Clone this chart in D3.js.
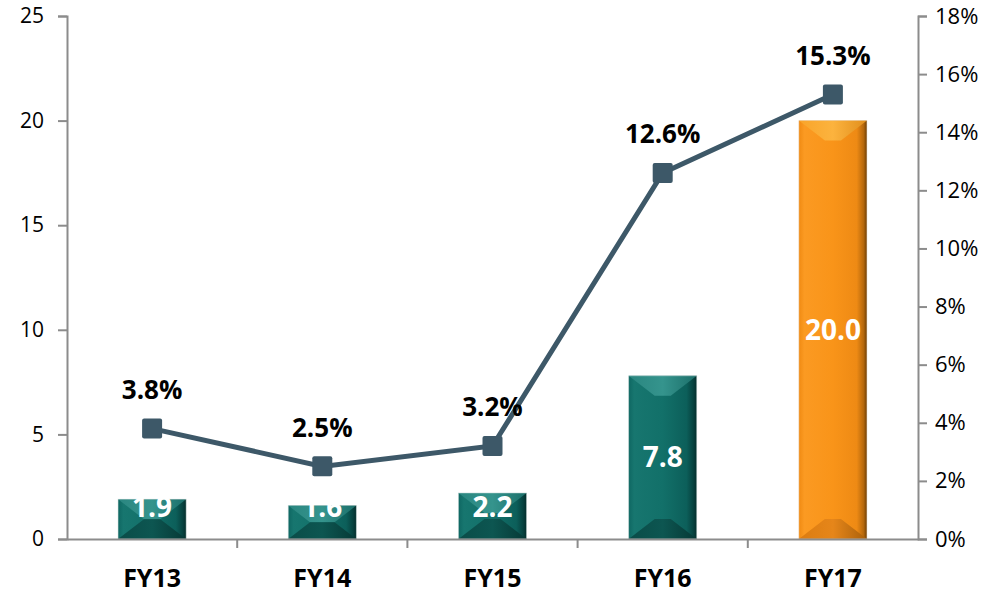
<!DOCTYPE html>
<html>
<head>
<meta charset="utf-8">
<script src="https://cdn.jsdelivr.net/npm/d3@7"></script>
<style>
  body { margin: 0; background: #fff; }
  text { font-family: "Open Sans", sans-serif; }
</style>
</head>
<body>
<div id="chart"></div>
<script>
let categories = ["FY13", "FY14", "FY15", "FY16", "FY17"];
let barValues = [1.9, 1.6, 2.2, 7.8, 20.0];
let lineValues = [3.8, 2.5, 3.2, 12.6, 15.3];
let leftTicks = [0, 5, 10, 15, 20, 25];
let rightTicks = [0, 2, 4, 6, 8, 10, 12, 14, 16, 18];

const w = 991, h = 595;
const m = {top: 16, right: 73, bottom: 56, left: 67};
const font = '"Open Sans", sans-serif';

let svg = d3.select("#chart").append("svg").attr("width", w).attr("height", h);
let defs = svg.append("defs");

let x = d3.scaleBand().domain(categories).range([m.left, w - m.right]).paddingInner(0.6).paddingOuter(0.3);
let yL = d3.scaleLinear().domain([0, 25]).range([h - m.bottom, m.top]);
let yR = d3.scaleLinear().domain([0, 18]).range([h - m.bottom, m.top]);

let axisColor = "#8c8c8c";

// horizontal gradients for the bevelled bars
function grad(id, stops) {
  let g = defs.append("linearGradient").attr("id", id).attr("x1", 0).attr("x2", 1).attr("y1", 0).attr("y2", 0);
  stops.forEach(s => g.append("stop").attr("offset", s[0]).attr("stop-color", s[1]));
}
grad("tealBase", [[0, "#0f6762"], [0.08, "#17766f"], [0.5, "#127069"], [0.85, "#0c5f5a"], [0.95, "#07423f"], [1, "#052e2c"]]);
grad("tealTop", [[0, "#2a8680"], [0.5, "#35948d"], [1, "#1c6f6a"]]);
grad("tealBot", [[0, "#0a4c48"], [0.5, "#0d5651"], [1, "#063835"]]);
grad("orBase", [[0, "#f08a12"], [0.08, "#fb9a22"], [0.5, "#f99419"], [0.85, "#ee8a14"], [0.95, "#b5680d"], [1, "#6e3f06"]]);
grad("orTop", [[0, "#f9a42a"], [0.5, "#fcb33e"], [1, "#e08e1c"]]);
grad("orBot", [[0, "#dc7c10"], [0.5, "#e6861a"], [1, "#a9600a"]]);

let bars = svg.append("g").selectAll("g.bar")
  .data(categories.map((c, i) => ({cat: c, value: barValues[i], last: i === categories.length - 1})))
  .enter().append("g").attr("class", "bar");

bars.each(function(d) {
  let g = d3.select(this);
  let p = d.last ? "or" : "teal";
  let x0 = x(d.cat), x1 = x0 + x.bandwidth();
  let y0 = yL(d.value), y1 = yL(0);
  let b = Math.min(20, (y1 - y0) / 2);
  let ix = Math.min(b * 1.3, x.bandwidth() / 2 - 4);
  g.append("rect").attr("x", x0).attr("y", y0).attr("width", x1 - x0).attr("height", y1 - y0)
    .attr("fill", `url(#${p}Base)`);
  let poly = (pts, fill) => g.append("polygon").attr("points", pts.map(q => q.join(",")).join(" ")).attr("fill", fill);
  poly([[x0, y0], [x1, y0], [x1 - ix, y0 + b], [x0 + ix, y0 + b]], `url(#${p}Top)`);
  poly([[x0, y1], [x1, y1], [x1 - ix, y1 - b], [x0 + ix, y1 - b]], `url(#${p}Bot)`);
  g.append("rect").attr("x", x0).attr("y", y0).attr("width", x1 - x0).attr("height", y1 - y0)
    .attr("fill", "none").attr("stroke", d.last ? "#e8d6c0" : "#c9d9d7").attr("stroke-width", 0.8).attr("stroke-opacity", 0.6);
});

bars.append("text")
  .attr("x", d => x(d.cat) + x.bandwidth() / 2)
  .attr("y", d => Math.min((yL(d.value) + yL(0)) / 2, yL(0) - 32))
  .attr("dy", "0.36em")
  .attr("text-anchor", "middle")
  .attr("fill", "#fff")
  .attr("font-weight", "bold")
  .attr("font-size", "28px")
  .text(d => d.value.toFixed(1));

// axes
let axL = svg.append("g").attr("transform", `translate(${m.left},0)`)
  .call(d3.axisLeft(yL).tickValues(leftTicks).tickSize(9).tickPadding(14));
let axR = svg.append("g").attr("transform", `translate(${w - m.right},0)`)
  .call(d3.axisRight(yR).tickValues(rightTicks).tickSize(9).tickPadding(8).tickFormat(d => d + "%"));
let axB = svg.append("g").attr("transform", `translate(0,${h - m.bottom})`)
  .call(d3.axisBottom(x).tickSize(0).tickPadding(30));

[axL, axR, axB].forEach(a => {
  a.select(".domain").attr("stroke", axisColor).attr("stroke-width", 2);
  a.selectAll(".tick line").attr("stroke", axisColor).attr("stroke-width", 2);
  a.selectAll("text").attr("fill", "#000").attr("font-size", "21px").style("font-family", font);
});
axR.selectAll("text").attr("font-size", "22px");
axB.selectAll("text").attr("font-weight", "bold").attr("font-size", "25px");

// category boundary ticks
let step = x.step();
svg.append("g").selectAll("line")
  .data(categories.slice(1))
  .enter().append("line")
  .attr("x1", d => x(d) - (step - x.bandwidth()) / 2)
  .attr("x2", d => x(d) - (step - x.bandwidth()) / 2)
  .attr("y1", yL(0)).attr("y2", yL(0) + 9)
  .attr("stroke", axisColor).attr("stroke-width", 2);

// line series
let lineColor = "#3d5868";
let pts = categories.map((c, i) => ({cat: c, value: lineValues[i]}));
let line = d3.line().x(d => x(d.cat) + x.bandwidth() / 2).y(d => yR(d.value));
svg.append("path").datum(pts).attr("d", line)
  .attr("fill", "none").attr("stroke", lineColor).attr("stroke-width", 5);

svg.append("g").selectAll("rect")
  .data(pts).enter().append("rect")
  .attr("x", d => x(d.cat) + x.bandwidth() / 2 - 10)
  .attr("y", d => yR(d.value) - 10)
  .attr("width", 20).attr("height", 20).attr("rx", 2)
  .attr("fill", lineColor);

svg.append("g").selectAll("text")
  .data(pts).enter().append("text")
  .attr("x", d => x(d.cat) + x.bandwidth() / 2)
  .attr("y", d => yR(d.value) - 39)
  .attr("dy", "0.36em")
  .attr("text-anchor", "middle")
  .attr("font-weight", "bold")
  .attr("font-size", "26px")
  .attr("fill", "#000")
  .text(d => d.value.toFixed(1) + "%");
</script>
</body>
</html>
